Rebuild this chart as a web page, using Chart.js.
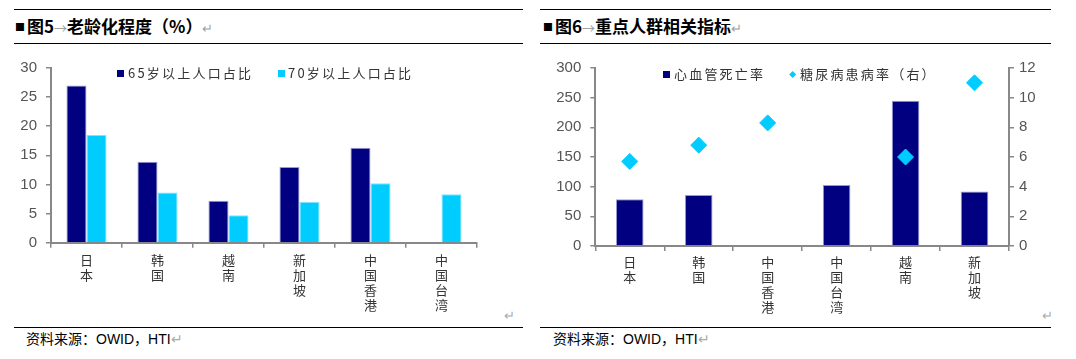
<!DOCTYPE html>
<html><head><meta charset="utf-8">
<script src="https://cdn.jsdelivr.net/npm/chart.js@4/dist/chart.umd.min.js"></script>
<style>
html,body{margin:0;padding:0;background:#fff;}
body{width:1076px;height:359px;overflow:hidden;position:relative;font-family:"Noto Sans CJK SC",sans-serif;}
.rule{position:absolute;height:0;border-top:1px solid #000;}
.title{position:absolute;font-size:17px;font-weight:bold;color:#000;white-space:nowrap;line-height:20px;}
.g{color:#a0a0a0;font-weight:normal;font-size:13px;}
.sq{font-size:10px;vertical-align:2px;margin-right:2px;}
.src{position:absolute;font-size:14px;color:#000;white-space:nowrap;line-height:18px;font-family:"Liberation Sans","Noto Sans CJK SC",sans-serif;}
.leg{position:absolute;font-size:13px;color:#333;letter-spacing:2.2px;white-space:nowrap;line-height:16px;}
.mk{position:absolute;width:7px;height:7px;}
.ret{position:absolute;color:#aaa;font-size:13px;line-height:16px;}
canvas{position:absolute;}
</style></head><body>

<div class="rule" style="left:14px;width:509px;top:9px"></div>
<div class="rule" style="left:14px;width:509px;top:43px"></div>
<div class="rule" style="left:14px;width:509px;top:327px"></div>
<div class="rule" style="left:540px;width:511px;top:9px"></div>
<div class="rule" style="left:540px;width:511px;top:43px"></div>
<div class="rule" style="left:540px;width:511px;top:327px"></div>

<div class="title" style="left:15px;top:16px"><span class="sq">■</span>图5<span class="g">→</span>老龄化程度（%）<span class="g">↵</span></div>
<div class="title" style="left:543px;top:16px"><span class="sq">■</span>图6<span class="g">→</span>重点人群相关指标<span class="g">↵</span></div>

<div class="src" style="left:26px;top:330px">资料来源：OWID，HTI<span style="color:#aaa">↵</span></div>
<div class="src" style="left:553px;top:330px">资料来源：OWID，HTI<span style="color:#aaa">↵</span></div>

<div class="ret" style="left:504px;top:307px">↵</div>
<div class="ret" style="left:1042px;top:307px">↵</div>

<canvas id="c1" width="536" height="275" style="left:0;top:50px;width:536px;height:275px"></canvas>
<canvas id="c2" width="540" height="275" style="left:536px;top:50px;width:540px;height:275px"></canvas>

<div class="mk" style="left:117px;top:70px;background:#000080;"></div>
<div class="leg" style="left:128px;top:65px">65岁以上人口占比</div>
<div class="mk" style="left:278px;top:70px;background:#00ccff;"></div>
<div class="leg" style="left:288px;top:65px">70岁以上人口占比</div>

<div class="mk" style="left:663px;top:71px;background:#000080;"></div>
<div class="leg" style="left:674px;top:66px">心血管死亡率</div>
<div style="position:absolute;left:790px;top:71.5px;width:5.3px;height:5.3px;background:#00ccff;transform:rotate(45deg);"></div>
<div class="leg" style="left:800px;top:66px">糖尿病患病率（右）</div>

<script>
// ---- Data: 图5 老龄化程度（%）
const agingCategories = ['日本','韩国','越南','新加坡','中国香港','中国台湾'];
const pop65Share = [27.0, 13.9, 7.2, 13.0, 16.3, null];
const pop70Share = [18.5, 8.6, 4.7, 7.0, 10.2, 8.3];
const agingTicks = [0, 5, 10, 15, 20, 25, 30];

// ---- Data: 图6 重点人群相关指标
const healthCategories = ['日本','韩国','中国香港','中国台湾','越南','新加坡'];
const cvdDeathRate = [79, 86, null, 103, 245, 92];
const diabetesRate = [5.7, 6.8, 8.3, null, 6.0, 11.0];
const leftTicks = [0, 50, 100, 150, 200, 250, 300];
const rightTicks = [0, 2, 4, 6, 8, 10, 12];

function hasFont(name){
  const c=document.createElement('canvas').getContext('2d');
  c.font='40px monospace';const a=c.measureText('0123456789').width;
  c.font='40px "'+name+'", monospace';return c.measureText('0123456789').width!==a;
}
const numFont = hasFont('Liberation Sans Narrow') ? {family:'"Liberation Sans Narrow"', size:17} : {family:'"Liberation Sans"', size:15};
const cjkFont = {family:'"Noto Sans CJK SC"', size:13, lineHeight:15/13};
const axisGrey = '#888';
const vert = s => s.split('');

function yAxis(ticksArr, width, pos, padding){
  return {
    position: pos,
    min: ticksArr[0], max: ticksArr[ticksArr.length-1],
    afterBuildTicks: s => { s.ticks = ticksArr.map(v => ({value:v})); },
    afterFit: s => { s.width = width; },
    grid: {drawOnChartArea:false, drawTicks:true, tickLength:5, color:axisGrey, lineWidth:1.5},
    border: {display:true, color:axisGrey, width:2},
    ticks: {color:'#555', font:numFont, padding:padding}
  };
}
function xAxis(height, padding){
  return {
    afterFit: s => { s.height = height; },
    grid: {offset:true, drawOnChartArea:false, drawTicks:true, tickLength:5, color:axisGrey, lineWidth:1.5},
    border: {display:true, color:axisGrey, width:2},
    ticks: {color:'#333', font:cjkFont, padding:padding, maxRotation:0, autoSkip:false}
  };
}

new Chart(document.getElementById('c1'), {
  type:'bar',
  data:{
    labels: agingCategories.map(vert),
    datasets:[
      {label:'65岁以上人口占比', data:pop65Share, backgroundColor:'#000080', borderColor:'#9a9ad2', borderWidth:1},
      {label:'70岁以上人口占比', data:pop70Share, backgroundColor:'#00ccff', borderColor:'#80e4ff', borderWidth:1}
    ]
  },
  options:{
    responsive:false, animation:false,
    layout:{padding:{left:0, right:59, top:15, bottom:0}},
    datasets:{bar:{categoryPercentage:0.565, barPercentage:1.0}},
    plugins:{legend:{display:false}, tooltip:{enabled:false}},
    scales:{
      x: xAxis(82.3, 5),
      y: yAxis(agingTicks, 51, 'left', 9)
    }
  }
});

new Chart(document.getElementById('c2'), {
  type:'bar',
  data:{
    labels: healthCategories.map(vert),
    datasets:[
      {type:'line', label:'糖尿病患病率（右）', data:diabetesRate, yAxisID:'y1', showLine:false,
       pointStyle:'rectRot', pointRadius:8, pointBackgroundColor:'#00ccff', pointBorderColor:'#00ccff', pointBorderWidth:1, order:0},
      {label:'心血管死亡率', data:cvdDeathRate, yAxisID:'y', backgroundColor:'#000080', borderColor:'#9a9ad2', borderWidth:1,
       categoryPercentage:0.4, barPercentage:1.0, order:1}
    ]
  },
  options:{
    responsive:false, animation:false,
    layout:{padding:{left:0, right:0, top:15, bottom:0}},
    plugins:{legend:{display:false}, tooltip:{enabled:false}},
    scales:{
      x: xAxis(79, 4),
      y: yAxis(leftTicks, 59.3, 'left', 9),
      y1: yAxis(rightTicks, 67, 'right', 5)
    }
  }
});
</script>
</body></html>
